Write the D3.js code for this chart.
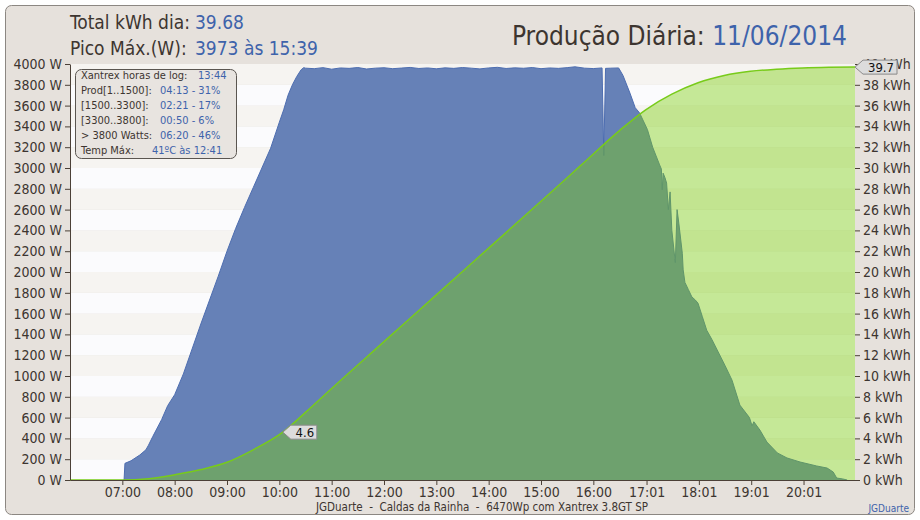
<!DOCTYPE html>
<html><head><meta charset="utf-8">
<script src="https://cdn.jsdelivr.net/npm/d3@7"></script>
<style>
body{margin:0;background:#fff}
text{font-family:"DejaVu Sans Condensed","DejaVu Sans",sans-serif;font-stretch:condensed}
</style>
</head><body><svg id="c" width="920" height="520"></svg>
<script>
// ---- data ----
const powerTimes = ["07:02","07:03","07:10","07:20","07:27","07:30","07:35","07:40","07:45","07:52","08:00","08:10","08:20","08:30","08:40","08:50","09:00","09:10","09:20","09:30","09:40","09:50","10:00","10:05","10:10","10:15","10:20","10:25","10:28",
 "10:30","10:40","10:50","11:00","11:10","11:20","11:30","11:40","11:50","12:00","12:10","12:20","12:30","12:40","12:50","13:00","13:10","13:20","13:30","13:40","13:50","14:00","14:10","14:20","14:30","14:40","14:50","15:00","15:10","15:20","15:30","15:39","15:50","16:00","16:10","16:12","16:14","16:20","16:29",
 "16:34","16:42","16:48","16:53","17:02","17:08","17:16","17:18","17:19","17:20","17:22","17:24","17:26","17:28","17:30","17:34","17:36","17:38","17:42","17:43","17:45","17:49","17:53","17:57","18:00","18:05","18:10","18:16","18:22","18:31","18:39","18:48","18:59","19:02","19:04","19:11","19:19","19:31","19:42","19:57","20:16","20:28","20:35","20:39","20:46","20:51"];
const powerWatts = [0,160,185,240,290,335,420,500,580,715,820,1020,1260,1500,1730,1960,2200,2420,2620,2810,3000,3190,3440,3560,3700,3800,3880,3945,3965,
 3960,3955,3965,3950,3962,3958,3966,3952,3960,3964,3955,3961,3967,3957,3962,3954,3963,3958,3966,3960,3953,3962,3968,3957,3963,3959,3966,3955,3962,3958,3965,3973,3960,3956,3962,3120,3958,3960,3962,
 3890,3720,3580,3530,3370,3200,3030,2990,2790,2950,2910,2855,2600,2770,2400,2090,2600,2470,2180,2020,1900,1830,1760,1730,1700,1570,1440,1350,1250,1100,960,720,600,520,560,480,365,260,212,173,135,115,77,19,10,0];

const energyTimes = ["06:00","07:00","07:30","08:00","08:30","09:00","09:30","10:04","10:30","11:00","12:00","13:00","14:00","15:00","15:45","16:30","17:00","17:30","18:00","18:30","19:00","19:30","20:00","20:30","21:00"];
const energyKWh  = [0,0,0.12,0.5,1.0,1.7,2.9,4.6,6.5,8.8,13.3,17.8,22.3,26.8,30.2,33.6,35.6,37.1,38.2,38.9,39.3,39.5,39.62,39.68,39.7];

const xTickLabels = ["07:00","08:00","09:00","10:00","11:00","12:00","13:00","14:00","15:00","16:00","17:01","18:01","19:01","20:01"];
const wattTicks = d3.range(0, 4001, 200);
const kwhTicks = d3.range(0, 41, 2);

const infoLabels = ["Xantrex horas de log:","Prod[1..1500]:","[1500..3300]:","[3300..3800]:","> 3800 Watts:","Temp Máx:"];
const infoValues = ["13:44","04:13 - 31%","02:21 - 17%","00:50 - 6%","06:20 - 46%","41ºC às 12:41"];

const headerTotal = "39.68";
const headerPeak = "3973 às 15:39";
const headerDate = "11/06/2014";
const labelStart = {time:"10:04", value:"4.6"};
const labelEnd = {time:"21:00", value:"39.7"};

// ---- drawing ----
const parse = d3.timeParse("%H:%M");
const svg = d3.select("#c");
const L = 70, R = 855, T = 64, B = 480;
const x = d3.scaleTime().domain([parse("06:00"), parse("21:00")]).range([L, R]);
const y = d3.scaleLinear().domain([0, 4000]).range([B, T]);
const y2 = d3.scaleLinear().domain([0, 40]).range([B, T]);

const blue = "#6681b7", blueEdge = "#4d6db0", green = "#78cb1a";
const ink = "#3d3530", axisCol = "#4b4037", valCol = "#3e63ab";

svg.append("rect").attr("x",5.5).attr("y",5.5).attr("width",909).attr("height",509).attr("rx",6)
  .attr("fill","#e6e1dc").attr("stroke","#8c8782");

// bands
svg.append("g").selectAll("rect").data(d3.range(20)).join("rect")
  .attr("x", L).attr("width", R - L)
  .attr("y", i => y((i+1)*200)).attr("height", i => y(i*200) - y((i+1)*200))
  .attr("fill", i => i % 2 ? "#f6f4f1" : "#fbfbfd");

const power = powerTimes.map((t,i)=>({t:parse(t), v:powerWatts[i]}));
const energy = energyTimes.map((t,i)=>({t:parse(t), v:energyKWh[i]}));

svg.append("path").datum(power)
  .attr("d", d3.area().x(d=>x(d.t)).y0(B).y1(d=>y(d.v)))
  .attr("fill", blue);
svg.append("path").datum(power)
  .attr("d", d3.line().x(d=>x(d.t)).y(d=>y(d.v)))
  .attr("fill","none").attr("stroke", blueEdge).attr("stroke-width",1);

svg.append("path").datum(energy)
  .attr("d", d3.area().x(d=>x(d.t)).y0(B).y1(d=>y2(d.v)).curve(d3.curveMonotoneX))
  .attr("fill", "rgba(122,205,10,0.42)");
svg.append("path").datum(energy)
  .attr("d", d3.line().x(d=>x(d.t)).y(d=>y2(d.v)).curve(d3.curveMonotoneX))
  .attr("fill","none").attr("stroke", green).attr("stroke-width",1.5);

// axes
const tickDates = xTickLabels.map(parse);
const ax = svg.append("g").attr("transform",`translate(0,${B})`)
  .call(d3.axisBottom(x).tickValues(tickDates).tickFormat(d3.timeFormat("%H:%M")).tickSize(5).tickSizeOuter(0));
const ay = svg.append("g").attr("transform",`translate(${L},0)`)
  .call(d3.axisLeft(y).tickValues(wattTicks).tickFormat(d=>d+" W").tickSize(5).tickSizeOuter(0));
const ay2 = svg.append("g").attr("transform",`translate(${R},0)`)
  .call(d3.axisRight(y2).tickValues(kwhTicks).tickFormat(d=>d+" kWh").tickSize(5).tickSizeOuter(0));
[ax,ay,ay2].forEach(g=>{
  g.selectAll("path,line").attr("stroke", axisCol);
  g.selectAll("text").attr("fill", ink).style("font-size","14px");
});
ax.selectAll("text").attr("y", 7);
ay2.select(".domain").remove();

// header
svg.append("text").attr("x",70).attr("y",29).style("font-size","19px").attr("fill",ink).text("Total kWh dia:");
svg.append("text").attr("x",195).attr("y",29).style("font-size","19px").attr("fill",valCol).text(headerTotal);
svg.append("text").attr("x",70).attr("y",55).style("font-size","19px").attr("fill",ink).text("Pico Máx.(W):");
svg.append("text").attr("x",195).attr("y",55).style("font-size","19px").attr("fill",valCol).text(headerPeak);
const tt = svg.append("text").attr("x",847).attr("y",45).attr("text-anchor","end").style("font-size","26px").attr("fill",ink);
tt.append("tspan").text("Produção Diária: ");
tt.append("tspan").attr("fill",valCol).text(headerDate);

// info box
svg.append("rect").attr("x",75.5).attr("y",69.5).attr("width",161).attr("height",89).attr("rx",6)
  .attr("fill","#e8e4e0").attr("stroke","#5a5550");
const valX = [198,160,160,160,160,152];
infoLabels.forEach((lab,i)=>{
  svg.append("text").attr("x",81).attr("y",79+i*15).style("font-size","11px").attr("fill",ink).text(lab);
  svg.append("text").attr("x",valX[i]).attr("y",79+i*15).style("font-size","11px").attr("fill",valCol).text(infoValues[i]);
});

// callouts
function callout(t, v, txt, w){
  const px = x(parse(t)), py = y2(v);
  const bx = px + 8, top = py - 7, bot = py + 7;
  svg.append("path").attr("d",`M${px},${py}L${bx},${top}H${bx+w}V${bot}H${bx}Z`)
    .attr("fill","#dcdcdc").attr("stroke","#8a8a8a");
  svg.append("text").attr("x",bx+w/2+1).attr("y",py+5).attr("text-anchor","middle")
    .style("font-size","13px").attr("fill","#111").text(txt);
}
callout(labelStart.time, +labelStart.value, labelStart.value, 26);
callout(labelEnd.time, +labelEnd.value, labelEnd.value, 34);

// footer
svg.append("text").attr("x",482).attr("y",511).attr("text-anchor","middle").style("font-size","11.5px").attr("fill",ink)
  .attr("xml:space","preserve").text("JGDuarte  -  Caldas da Rainha  -  6470Wp com Xantrex 3.8GT SP");
svg.append("text").attr("x",909).attr("y",512).attr("text-anchor","end").style("font-size","10px").attr("fill",valCol).text("JGDuarte");
</script>
</body></html>
